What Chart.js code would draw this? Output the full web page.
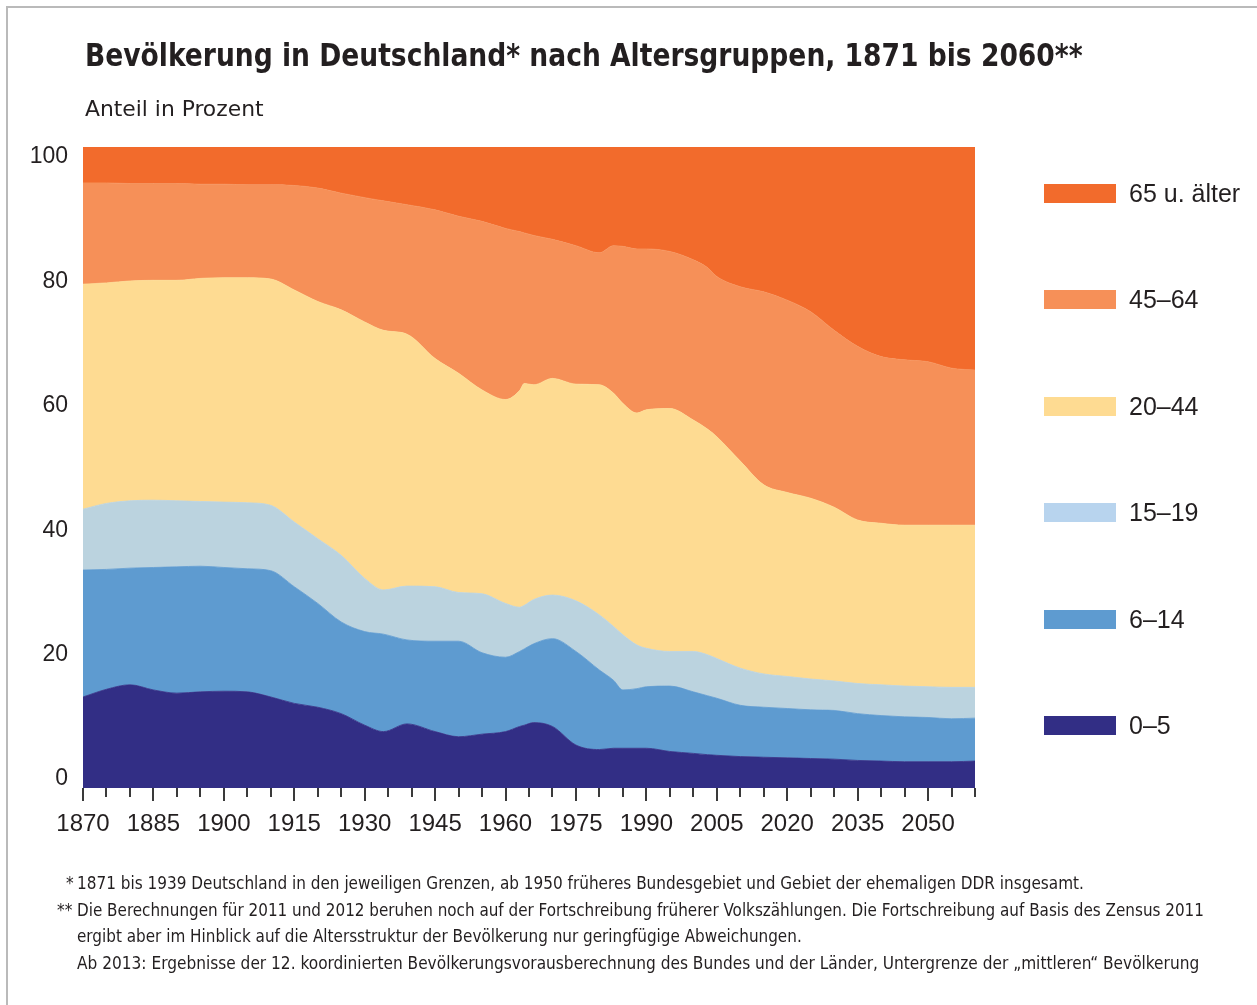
<!DOCTYPE html>
<html>
<head>
<meta charset="utf-8">
<script src="https://cdn.jsdelivr.net/npm/chart.js@4.4.1/dist/chart.umd.min.js"></script>
<style>
html,body{margin:0;padding:0;background:#fff;}
body{width:1257px;height:1005px;position:relative;overflow:hidden;font-family:"Liberation Sans",Arial,sans-serif;color:#231f20;}
#frame{position:absolute;left:6px;top:6px;width:1300px;height:1100px;border-top:2px solid #bababa;border-left:2px solid #bababa;}
#c{position:absolute;left:0;top:0;}
.t{position:absolute;white-space:nowrap;transform-origin:0 0;}
.narrow{font-family:"Liberation Sans Narrow","DejaVu Sans Condensed","Liberation Sans",sans-serif;}
#title{left:85px;top:39px;font-size:32px;line-height:32px;font-weight:bold;}
#subtitle{left:85px;top:99px;font-size:21px;line-height:21px;}
.fn{font-size:17px;line-height:17px;}
.row{position:absolute;left:1044px;height:30px;display:flex;align-items:center;}
.sw{width:72px;height:19px;margin-right:13px;flex:none;}
.lt{font-size:25px;line-height:30px;white-space:nowrap;}
</style>
</head>
<body>
<div id="frame"></div>
<canvas id="c" width="1257" height="1005"></canvas>
<div id="title" class="t narrow" data-w="998">Bevölkerung in Deutschland* nach Altersgruppen, 1871 bis 2060**</div>
<div id="subtitle" class="t narrow" data-w="178">Anteil in Prozent</div>
<div class="t narrow fn" style="left:66px;top:875px;">*</div>
<div class="t narrow fn" style="left:77px;top:875px;" data-w="1007">1871 bis 1939 Deutschland in den jeweiligen Grenzen, ab 1950 früheres Bundesgebiet und Gebiet der ehemaligen DDR insgesamt.</div>
<div class="t narrow fn" style="left:57px;top:902px;">**</div>
<div class="t narrow fn" style="left:77px;top:902px;" data-w="1127">Die Berechnungen für 2011 und 2012 beruhen noch auf der Fortschreibung früherer Volkszählungen. Die Fortschreibung auf Basis des Zensus 2011</div>
<div class="t narrow fn" style="left:77px;top:928px;" data-w="725">ergibt aber im Hinblick auf die Altersstruktur der Bevölkerung nur geringfügige Abweichungen.</div>
<div class="t narrow fn" style="left:77px;top:955px;" data-w="1122">Ab 2013: Ergebnisse der 12. koordinierten Bevölkerungsvorausberechnung des Bundes und der Länder, Untergrenze der „mittleren“ Bevölkerung</div>
<div id="legend"></div>
<script>
// ---- data (shares in percent) ----
const years = [1870,1875,1880,1885,1890,1895,1900,1905,1910,1915,1920,1925,1930,1934,1939,1945,1950,1955,1960,1963,1964,1966,1970,1975,1980,1983,1985,1988,1990,1995,2000,2003,2005,2010,2015,2020,2025,2030,2035,2040,2045,2050,2055,2060];
const age0_5   = [14.2,15.4,16.1,15.3,14.8,15.0,15.1,15.0,14.2,13.2,12.6,11.6,9.8, 8.8,10.0,8.8,8.0,8.4,8.8, 9.6,9.8,10.2,9.6, 6.7,6.0,6.2,6.2,6.2,6.2, 5.7,5.4,5.2,5.1, 4.9,4.8,4.7,4.6,4.5,4.3,4.2,4.1,4.1,4.1,4.2];
const age6_14  = [19.8,18.7,18.2,19.1,19.7,19.6,19.3,19.2,19.7,18.2,16.2,14.3,14.6, 15.2,13.1,14.1,14.9,12.7,11.6, 11.7,11.9,12.3,13.7, 14.6,12.4,10.6,9.1,9.3,9.6, 10.2,9.6,9.2,8.9, 8.0,7.8,7.7,7.6,7.6,7.3,7.1,7.0,6.9,6.7,6.7];
const age15_19 = [9.5,10.3,10.5,10.5,10.3,10.1,10.2,10.3,10.2,10.1,10.1,10.4,8.3, 6.9,8.4,8.5,7.6,9.2,8.4, 6.9,6.8,6.9,6.8, 7.9,8.6,8.4,8.6,6.8,6.0, 5.4,6.3,6.4,6.2, 5.8,5.2,5.0,4.8,4.6,4.7,4.8,4.8,4.8,4.9,4.8];
const age20_44 = [35.1,34.4,34.3,34.3,34.4,34.8,35.0,35.1,35.3,36.2,37.0,38.3,40.0, 40.5,39.3,35.6,34.2,31.8,31.8, 33.8,34.6,33.5,33.8, 33.8,35.9,36.4,36.1,36.2,37.2, 37.9,36.1,35.2,34.6, 32.3,29.5,28.7,28.2,27.1,25.5,25.2,25.1,25.2,25.3,25.3];
const age45_64 = [15.8,15.6,15.2,15.1,15.1,14.7,14.6,14.5,14.7,16.3,17.7,18.2,19.4, 20.2,20.2,23.2,24.5,26.3,26.7, 24.8,23.5,23.3,21.7, 21.6,20.6,23.0,24.5,25.6,25.1, 24.5,25.0,25.2,25.0, 27.2,30.1,30.0,29.1,27.6,27.1,26.0,25.8,25.5,24.5,24.2];
const age65    = [5.6,5.6,5.7,5.7,5.7,5.8,5.8,5.9,5.9,6.0,6.4,7.2,7.9, 8.4,9.0,9.8,10.8,11.6,12.7, 13.2,13.4,13.8,14.4, 15.4,16.5,15.4,15.5,15.9,15.9, 16.3,17.6,18.8,20.2, 21.8,22.6,23.9,25.7,28.6,31.1,32.7,33.2,33.5,34.5,34.8];

const seriesLabels = ["0–5","6–14","15–19","20–44","45–64","65 u. älter"];
const seriesValues = [age0_5, age6_14, age15_19, age20_44, age45_64, age65];
const areaColors   = ["#322E85","#5E9BD0","#BBD3DF","#FEDB92","#F69058","#F26B2C"];
const legendColors = ["#322E85","#5E9BD0","#B8D4EE","#FEDB92","#F69058","#F26B2C"];

const xTickLabels = [1870,1885,1900,1915,1930,1945,1960,1975,1990,2005,2020,2035,2050];
const xTickStep = 5;
const yTickValues = [0,20,40,60,80,100];

// ---- fit narrow text to the reference widths ----
document.querySelectorAll('[data-w]').forEach(el=>{
  const w = el.offsetWidth, target = +el.dataset.w;
  if (w > 0) el.style.transform = 'scaleX(' + (target / w) + ')';
});

// ---- legend (top to bottom: 65+ ... 0-5) ----
const legendY = [193,299,406,512,619,725];
const lg = document.getElementById('legend');
for (let i = 0; i < 6; i++) {
  const k = 5 - i;
  const row = document.createElement('div');
  row.className = 'row';
  row.style.top = (legendY[i] - 15) + 'px';
  row.innerHTML = '<div class="sw" style="background:' + legendColors[k] + '"></div><div class="lt">' + seriesLabels[k] + '</div>';
  lg.appendChild(row);
}

// ---- chart ----
const datasets = seriesValues.map((vals, i) => ({
  label: seriesLabels[i],
  data: years.map((y, j) => ({x: y, y: vals[j]})),
  backgroundColor: areaColors[i],
  borderColor: areaColors[i],
  borderWidth: 0.8,
  fill: i === 0 ? 'origin' : '-1',
  pointRadius: 0,
  cubicInterpolationMode: 'monotone',
  yAxisID: 'y'
}));

const tickPlugin = {
  id: 'xticks',
  afterDatasetsDraw(chart) {
    const s = chart.scales.x, ctx = chart.ctx, b = chart.chartArea.bottom;
    ctx.save();
    ctx.strokeStyle = '#3a3a3a';
    ctx.lineWidth = 2;
    s.ticks.forEach(t => {
      const x = Math.round(s.getPixelForValue(t.value));
      const major = xTickLabels.includes(t.value);
      ctx.beginPath();
      ctx.moveTo(x, b);
      ctx.lineTo(x, b + (major ? 13 : 9));
      ctx.stroke();
    });
    ctx.restore();
  }
};

const fontFam = "'Liberation Sans', Arial, sans-serif";
new Chart(document.getElementById('c'), {
  type: 'line',
  data: { datasets },
  options: {
    responsive: false,
    animation: false,
    devicePixelRatio: 1,
    layout: { padding: { left: 0, top: 147, right: 282, bottom: 0 } },
    plugins: { legend: { display: false }, tooltip: { enabled: false } },
    scales: {
      x: {
        type: 'linear', min: years[0], max: 2060,
        afterBuildTicks(s) {
          const t = [];
          for (let v = s.min; v <= s.max; v += xTickStep) t.push({ value: v });
          s.ticks = t;
        },
        afterFit(s) { s.height = 217; },
        grid: { display: false, drawTicks: false }, border: { display: false },
        ticks: {
          autoSkip: false, maxRotation: 0, padding: 22, color: '#231f20',
          font: { family: fontFam, size: 24 },
          callback: v => xTickLabels.includes(v) ? String(v) : ''
        }
      },
      y: { stacked: true, min: 0, max: 100, display: false },
      yl: {
        axis: 'y', position: 'left', min: -1.45, max: 101.61,
        afterBuildTicks(s) { s.ticks = yTickValues.map(v => ({ value: v })); },
        afterFit(s) { s.width = 83; },
        grid: { display: false, drawTicks: false }, border: { display: false },
        ticks: { padding: 15, color: '#231f20', font: { family: fontFam, size: 23 } }
      }
    }
  },
  plugins: [tickPlugin]
});
</script>
</body>
</html>
